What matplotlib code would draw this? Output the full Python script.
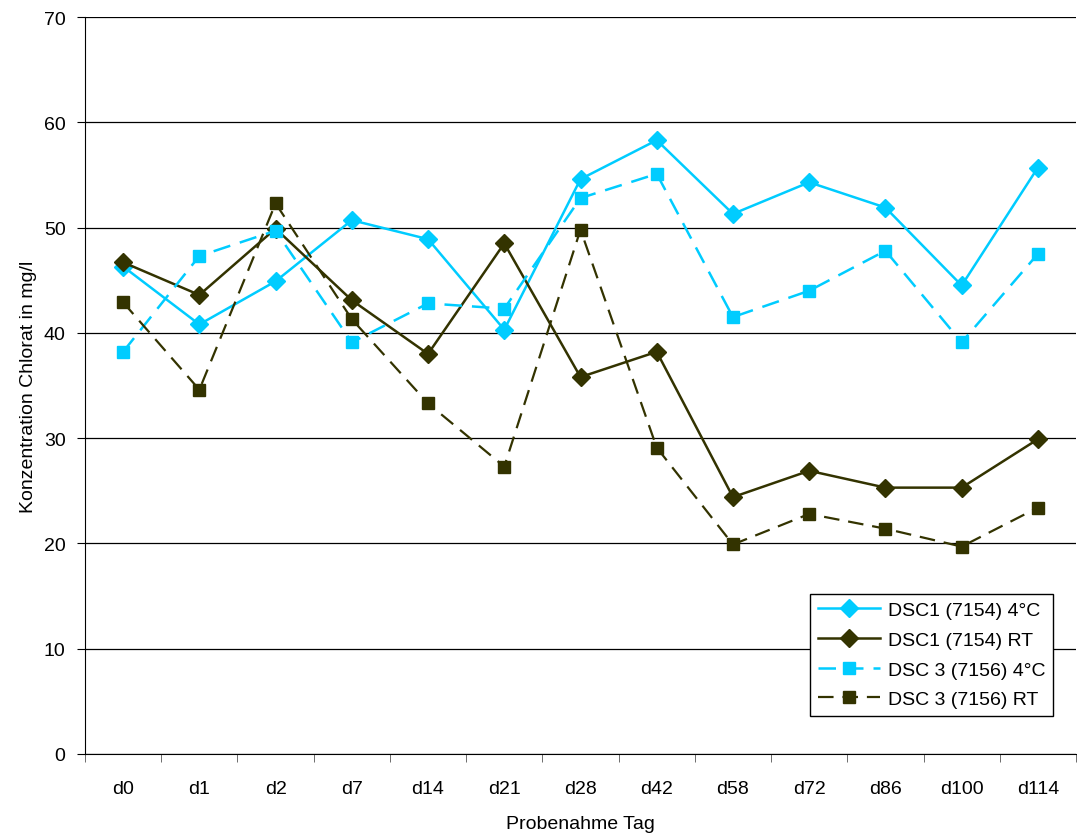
import matplotlib
matplotlib.use("Agg")
import matplotlib.pyplot as plt
import numpy as np

plt.rcParams['font.family'] = ['Liberation Sans', 'DejaVu Sans']

categories = ["d0", "d1", "d2", "d7", "d14", "d21", "d28", "d42", "d58", "d72", "d86", "d100", "d114"]
dsc1_4c = [46.3, 40.8, 44.9, 50.7, 48.9, 40.3, 54.6, 58.3, 51.3, 54.3, 51.9, 44.5, 55.7]
dsc1_rt = [46.7, 43.6, 49.9, 43.1, 38.0, 48.5, 35.8, 38.2, 24.4, 26.9, 25.3, 25.3, 29.9]
dsc3_4c = [38.2, 47.3, 49.7, 39.1, 42.8, 42.3, 52.8, 55.1, 41.5, 44.0, 47.8, 39.1, 47.5]
dsc3_rt = [42.9, 34.6, 52.3, 41.3, 33.3, 27.3, 49.8, 29.1, 19.9, 22.8, 21.4, 19.7, 23.4]
labels = ["DSC1 (7154) 4°C", "DSC1 (7154) RT", "DSC 3 (7156) 4°C", "DSC 3 (7156) RT"]

light = "#00CCFF"
dark = "#333300"

fig = plt.figure(figsize=(10.77, 8.37), dpi=100)
ax = fig.add_axes([85/1077, 1-755/837, (1076-85)/1077, (755-18)/837])
x = np.arange(len(categories))

ax.plot(x, dsc1_4c, color=light, lw=1.8, marker="D", ms=9, label=labels[0], zorder=3)
ax.plot(x, dsc1_rt, color=dark, lw=1.8, marker="D", ms=9, label=labels[1], zorder=3)
ax.plot(x, dsc3_4c, color=light, lw=1.8, ls=(0, (7, 4)), marker="s", ms=8, label=labels[2], zorder=3)
ax.plot(x, dsc3_rt, color=dark, lw=1.6, ls=(0, (7, 4)), marker="s", ms=8, label=labels[3], zorder=3)

ax.set_xlim(-0.5, len(categories) - 0.5)
ax.set_ylim(0, 70)
ax.set_yticks(np.arange(0, 71, 10))
ax.yaxis.grid(True, color="black", lw=0.9)
ax.set_axisbelow(True)
ax.set_xticks(x)
ax.set_xticklabels(categories)
ax.set_xticks(np.arange(-0.5, len(categories), 1), minor=True)
ax.tick_params(axis="x", which="major", length=0, pad=19, labelsize=14)
ax.tick_params(axis="x", which="minor", length=6, direction="out", color="#555555")
ax.tick_params(axis="y", length=6, direction="out", labelsize=14, pad=8)
for s in ["top", "right"]:
    ax.spines[s].set_visible(False)
ax.spines["left"].set_color("black")
ax.spines["bottom"].set_color("black")

ax.set_xlabel("Probenahme Tag", fontsize=14, labelpad=13)
ax.set_ylabel("Konzentration Chlorat in mg/l", fontsize=14, labelpad=5)

leg = ax.legend(loc="lower right", bbox_to_anchor=((1053-85)/991, (755-717)/737),
                fontsize=14, frameon=True, fancybox=False, edgecolor="black",
                framealpha=1, borderpad=0.4, handlelength=3.2, labelspacing=0.62,
                handletextpad=0.4, borderaxespad=0.0)
leg.get_frame().set_linewidth(1.0)

fig.savefig("out.png", dpi=100)
